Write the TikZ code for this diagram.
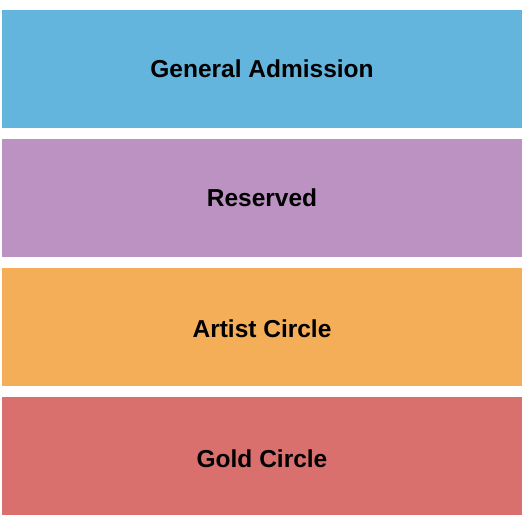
\documentclass[tikz,border=0pt]{standalone}
\usepackage{fontspec}
\setmainfont{Liberation Sans}
\usepackage{tikz}
\usetikzlibrary{positioning}
\definecolor{gaBlue}{RGB}{99,181,221}
\definecolor{resPurple}{RGB}{188,146,194}
\definecolor{artOrange}{RGB}{244,174,88}
\definecolor{goldRed}{RGB}{217,112,110}
\tikzstyle{section} = [rectangle, inner sep=0pt, minimum width=520pt,
minimum height=118pt, font=\fontsize{24.5}{28}\selectfont\bfseries]

\begin{document}
\begin{tikzpicture}[x=1pt,y=-1pt]
		\useasboundingbox (0,0) rectangle (525,525);
		\node [section, fill=gaBlue] (genadm) at (262,69) {General Admission};
		\node [section, fill=resPurple] (reserved) at (262,198) {Reserved};
		\node [section, fill=artOrange, text height=20.5pt] (artist) at (262,327) {Artist Circle};
		\node [section, fill=goldRed, text height=22.5pt] (gold) at (262,456) {Gold Circle};
		\end{tikzpicture}
\end{document}
